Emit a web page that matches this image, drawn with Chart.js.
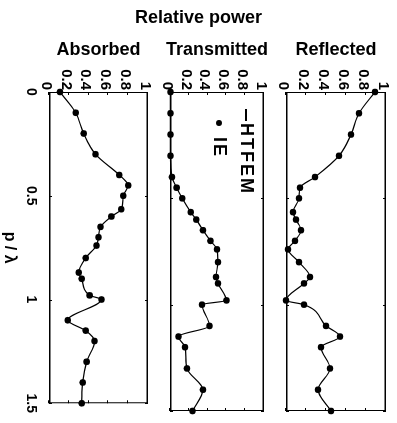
<!DOCTYPE html>
<html>
<head>
<meta charset="utf-8">
<script src="https://cdn.jsdelivr.net/npm/chart.js@4.4.0/dist/chart.umd.min.js"></script>
<style>
body { margin: 0; background: #fff; width: 397px; height: 423px; overflow: hidden; position: relative;
       font-family: "Liberation Sans", Arial, sans-serif; }
/* the figure is drawn upright (423 x 397) then turned a quarter turn clockwise */
#fig { position: absolute; left: 0; top: 0; width: 423px; height: 397px;
       transform-origin: 0 0; transform: translate(397px, 0) rotate(90deg); }
#fig canvas { position: absolute; left: 0; }
#title { position: absolute; left: 0; top: 7px; width: 397px; text-align: center;
         font-weight: bold; font-size: 18px; color: #000; }
.leg { position: absolute; font-weight: bold; font-size: 18px; letter-spacing: 2px; line-height: 22px; color: #000; white-space: nowrap; }
.leg .ln { display: inline-block; width: 12px; height: 2px; background: #000; vertical-align: middle; margin-right: 2px; }
.leg .dot { display: inline-block; width: 6px; height: 6px; border-radius: 50%; background: #000; vertical-align: middle; margin: 0 11px 0 12px; }
</style>
</head>
<body>
<div id="fig">
  <canvas id="chart-reflected" width="423" height="122" style="top:0px"></canvas>
  <canvas id="chart-transmitted" width="423" height="116" style="top:122px"></canvas>
  <canvas id="chart-absorbed" width="423" height="159" style="top:238px"></canvas>
  <div id="legend"></div>
</div>
<div id="title">Relative power</div>

<script>
// p / lambda where the IE points sit
const p_values = [0, 0.1, 0.2, 0.3, 0.4, 0.45, 0.5, 0.565, 0.6, 0.65, 0.7, 0.74, 0.8, 0.87, 0.9, 0.98, 1.0, 1.1, 1.15, 1.2, 1.3, 1.4, 1.5];

const reflected = [0.89, 0.73, 0.65, 0.53, 0.29, 0.14, 0.13, 0.07, 0.10, 0.15, 0.09, 0.02, 0.13, 0.24, 0.18, 0.00, 0.18, 0.40, 0.54, 0.35, 0.44, 0.32, 0.45];
const transmitted = [0.005, 0.005, 0.005, 0.005, 0.02, 0.07, 0.13, 0.22, 0.28, 0.35, 0.43, 0.50, 0.51, 0.49, 0.51, 0.60, 0.34, 0.42, 0.09, 0.16, 0.18, 0.35, 0.24];
const absorbed = [0.11, 0.27, 0.35, 0.47, 0.71, 0.80, 0.75, 0.73, 0.63, 0.52, 0.50, 0.48, 0.37, 0.30, 0.33, 0.41, 0.53, 0.19, 0.37, 0.46, 0.38, 0.34, 0.33];

const p_ticks = [0, 0.5, 1, 1.5];
const power_ticks = [0, 0.2, 0.4, 0.6, 0.8, 1];

const series_names = ["HTFEM", "IE"];

Chart.defaults.font.family = "'Liberation Sans', Arial, sans-serif";
Chart.defaults.color = "#000";

// box round the plot with small inward ticks on every side
const box_plugin = {
    id: "box",
    beforeDatasetsDraw(chart) {
        const { ctx, chartArea: a, scales } = chart;
        ctx.save();
        ctx.strokeStyle = "#000";
        // short sides (p = 0 and p = 1.5) are thin
        ctx.lineWidth = 1;
        ctx.beginPath();
        ctx.moveTo(a.left + 0.5, a.top); ctx.lineTo(a.left + 0.5, a.bottom);
        ctx.moveTo(a.right - 0.5, a.top); ctx.lineTo(a.right - 0.5, a.bottom);
        for (const v of p_ticks) {
            const px = Math.round(scales.x.getPixelForValue(v)) + 0.5;
            ctx.moveTo(px, a.top); ctx.lineTo(px, a.top + 3);
            ctx.moveTo(px, a.bottom); ctx.lineTo(px, a.bottom - 3);
        }
        for (const v of power_ticks) {
            const py = Math.round(scales.y.getPixelForValue(v)) + 0.5;
            ctx.moveTo(a.left, py); ctx.lineTo(a.left + 3, py);
            ctx.moveTo(a.right, py); ctx.lineTo(a.right - 3, py);
        }
        ctx.stroke();
        // long sides are heavier
        ctx.lineWidth = 1.6;
        ctx.beginPath();
        ctx.moveTo(a.left, a.top + 0.8); ctx.lineTo(a.right, a.top + 0.8);
        ctx.moveTo(a.left, a.bottom - 0.8); ctx.lineTo(a.right, a.bottom - 0.8);
        ctx.stroke();
        ctx.restore();
    },
};

const panels = [
    { key: "reflected", label: "Reflected", values: reflected, pad: { top: 11, bottom: 8 }, show_p: false },
    { key: "transmitted", label: "Transmitted", values: transmitted, pad: { top: 6, bottom: 7 }, show_p: false },
    { key: "absorbed", label: "Absorbed", values: absorbed, pad: { top: 7, bottom: 0 }, show_p: true },
];

let charts = {};

for (const panel of panels) {
    const points = p_values.map((p, i) => ({ x: p, y: panel.values[i] }));
    const ctx = document.getElementById("chart-" + panel.key);

    charts[panel.key] = new Chart(ctx, {
        type: "scatter",
        data: {
            datasets: [
                {
                    label: series_names[0],
                    data: points,
                    showLine: true,
                    borderColor: "#000",
                    borderWidth: 1.2,
                    pointRadius: 0,
                    cubicInterpolationMode: "monotone",
                    clip: false,
                },
                {
                    label: series_names[1],
                    data: points,
                    showLine: false,
                    pointRadius: 3.3,
                    pointBackgroundColor: "#000",
                    pointBorderColor: "#000",
                    pointBorderWidth: 0,
                    clip: false,
                },
            ],
        },
        options: {
            responsive: false,
            animation: false,
            events: [],
            layout: { padding: { left: 0, right: 12, top: panel.pad.top, bottom: panel.pad.bottom } },
            plugins: { legend: { display: false }, tooltip: { enabled: false } },
            scales: {
                x: {
                    type: "linear",
                    min: 0,
                    max: 1.5,
                    display: panel.show_p,
                    grid: { display: false, drawTicks: false },
                    border: { display: false },
                    afterBuildTicks: (s) => { s.ticks = p_ticks.map((v) => ({ value: v })); },
                    ticks: {
                        padding: 10,
                        maxRotation: 0,
                        autoSkip: false,
                        font: { size: 14, weight: "bold" },
                        callback: (v) => String(v),
                    },
                    title: {
                        display: panel.show_p,
                        text: "p / λ",
                        font: { size: 16, weight: "bold" },
                        padding: { top: 0, bottom: 0 },
                    },
                    afterFit: (s) => { s.height = panel.show_p ? 49 : 0; },
                },
                y: {
                    type: "linear",
                    min: 0,
                    max: 1,
                    grid: { display: false, drawTicks: false },
                    border: { display: false },
                    afterBuildTicks: (s) => { s.ticks = power_ticks.map((v) => ({ value: v })); },
                    ticks: {
                        padding: 2,
                        labelOffset: 3,
                        autoSkip: false,
                        font: { size: 15, weight: "bold" },
                        callback: (v) => String(v),
                    },
                    title: {
                        display: true,
                        text: panel.label,
                        font: { size: 18, weight: "bold" },
                        padding: { top: 39, bottom: 0 },
                    },
                    afterFit: (s) => { s.width = 92; },
                },
            },
        },
        plugins: [box_plugin],
    });
}

// legend sits inside the transmitted panel, upper left
const legend = document.getElementById("legend");
const names = charts.transmitted.data.datasets.map((d) => d.label);
legend.innerHTML =
    '<div class="leg" style="left:109px;top:139px"><span class="ln"></span>' + names[0] + "</div>" +
    '<div class="leg" style="left:108px;top:166px"><span class="dot"></span>' + names[1] + "</div>";
</script>
</body>
</html>
